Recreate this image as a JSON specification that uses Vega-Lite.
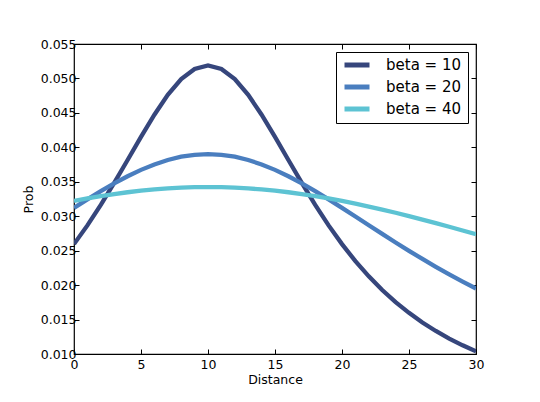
{
  "$schema": "https://vega.github.io/schema/vega-lite/v6.json",
  "autosize": {"type": "none"},
  "width": 402,
  "height": 310,
  "padding": {"left": 74, "top": 44, "right": 64, "bottom": 48},
  "background": "white",
  "config": {
    "font": "DejaVu Sans",
    "view": {"stroke": "black", "strokeWidth": 1.2},
    "axis": {
      "domain": false,
      "grid": false,
      "tickColor": "black",
      "tickSize": -5,
      "labelColor": "black",
      "labelFontSize": 12.5,
      "titleFontSize": 12.5,
      "titleFontWeight": "normal",
      "titleColor": "black"
    }
  },
  "data": {
    "values": [
      {"Distance": 0, "Prob": 0.02595, "beta": "beta = 10"},
      {"Distance": 1, "Prob": 0.02867, "beta": "beta = 10"},
      {"Distance": 2, "Prob": 0.03165, "beta": "beta = 10"},
      {"Distance": 3, "Prob": 0.03483, "beta": "beta = 10"},
      {"Distance": 4, "Prob": 0.03816, "beta": "beta = 10"},
      {"Distance": 5, "Prob": 0.04152, "beta": "beta = 10"},
      {"Distance": 6, "Prob": 0.04474, "beta": "beta = 10"},
      {"Distance": 7, "Prob": 0.04761, "beta": "beta = 10"},
      {"Distance": 8, "Prob": 0.0499, "beta": "beta = 10"},
      {"Distance": 9, "Prob": 0.05138, "beta": "beta = 10"},
      {"Distance": 10, "Prob": 0.05189, "beta": "beta = 10"},
      {"Distance": 11, "Prob": 0.05138, "beta": "beta = 10"},
      {"Distance": 12, "Prob": 0.0499, "beta": "beta = 10"},
      {"Distance": 13, "Prob": 0.04761, "beta": "beta = 10"},
      {"Distance": 14, "Prob": 0.04474, "beta": "beta = 10"},
      {"Distance": 15, "Prob": 0.04152, "beta": "beta = 10"},
      {"Distance": 16, "Prob": 0.03816, "beta": "beta = 10"},
      {"Distance": 17, "Prob": 0.03483, "beta": "beta = 10"},
      {"Distance": 18, "Prob": 0.03165, "beta": "beta = 10"},
      {"Distance": 19, "Prob": 0.02867, "beta": "beta = 10"},
      {"Distance": 20, "Prob": 0.02595, "beta": "beta = 10"},
      {"Distance": 21, "Prob": 0.02348, "beta": "beta = 10"},
      {"Distance": 22, "Prob": 0.02127, "beta": "beta = 10"},
      {"Distance": 23, "Prob": 0.01929, "beta": "beta = 10"},
      {"Distance": 24, "Prob": 0.01753, "beta": "beta = 10"},
      {"Distance": 25, "Prob": 0.01597, "beta": "beta = 10"},
      {"Distance": 26, "Prob": 0.01458, "beta": "beta = 10"},
      {"Distance": 27, "Prob": 0.01334, "beta": "beta = 10"},
      {"Distance": 28, "Prob": 0.01224, "beta": "beta = 10"},
      {"Distance": 29, "Prob": 0.01126, "beta": "beta = 10"},
      {"Distance": 30, "Prob": 0.01038, "beta": "beta = 10"},
      {"Distance": 0, "Prob": 0.03122, "beta": "beta = 20"},
      {"Distance": 1, "Prob": 0.03245, "beta": "beta = 20"},
      {"Distance": 2, "Prob": 0.03364, "beta": "beta = 20"},
      {"Distance": 3, "Prob": 0.03477, "beta": "beta = 20"},
      {"Distance": 4, "Prob": 0.0358, "beta": "beta = 20"},
      {"Distance": 5, "Prob": 0.03673, "beta": "beta = 20"},
      {"Distance": 6, "Prob": 0.03752, "beta": "beta = 20"},
      {"Distance": 7, "Prob": 0.03816, "beta": "beta = 20"},
      {"Distance": 8, "Prob": 0.03864, "beta": "beta = 20"},
      {"Distance": 9, "Prob": 0.03892, "beta": "beta = 20"},
      {"Distance": 10, "Prob": 0.03902, "beta": "beta = 20"},
      {"Distance": 11, "Prob": 0.03892, "beta": "beta = 20"},
      {"Distance": 12, "Prob": 0.03864, "beta": "beta = 20"},
      {"Distance": 13, "Prob": 0.03816, "beta": "beta = 20"},
      {"Distance": 14, "Prob": 0.03752, "beta": "beta = 20"},
      {"Distance": 15, "Prob": 0.03673, "beta": "beta = 20"},
      {"Distance": 16, "Prob": 0.0358, "beta": "beta = 20"},
      {"Distance": 17, "Prob": 0.03477, "beta": "beta = 20"},
      {"Distance": 18, "Prob": 0.03364, "beta": "beta = 20"},
      {"Distance": 19, "Prob": 0.03245, "beta": "beta = 20"},
      {"Distance": 20, "Prob": 0.03122, "beta": "beta = 20"},
      {"Distance": 21, "Prob": 0.02996, "beta": "beta = 20"},
      {"Distance": 22, "Prob": 0.02869, "beta": "beta = 20"},
      {"Distance": 23, "Prob": 0.02743, "beta": "beta = 20"},
      {"Distance": 24, "Prob": 0.02619, "beta": "beta = 20"},
      {"Distance": 25, "Prob": 0.02497, "beta": "beta = 20"},
      {"Distance": 26, "Prob": 0.0238, "beta": "beta = 20"},
      {"Distance": 27, "Prob": 0.02266, "beta": "beta = 20"},
      {"Distance": 28, "Prob": 0.02156, "beta": "beta = 20"},
      {"Distance": 29, "Prob": 0.02051, "beta": "beta = 20"},
      {"Distance": 30, "Prob": 0.01951, "beta": "beta = 20"},
      {"Distance": 0, "Prob": 0.03222, "beta": "beta = 40"},
      {"Distance": 1, "Prob": 0.03258, "beta": "beta = 40"},
      {"Distance": 2, "Prob": 0.03291, "beta": "beta = 40"},
      {"Distance": 3, "Prob": 0.03321, "beta": "beta = 40"},
      {"Distance": 4, "Prob": 0.03348, "beta": "beta = 40"},
      {"Distance": 5, "Prob": 0.03371, "beta": "beta = 40"},
      {"Distance": 6, "Prob": 0.03389, "beta": "beta = 40"},
      {"Distance": 7, "Prob": 0.03404, "beta": "beta = 40"},
      {"Distance": 8, "Prob": 0.03415, "beta": "beta = 40"},
      {"Distance": 9, "Prob": 0.03421, "beta": "beta = 40"},
      {"Distance": 10, "Prob": 0.03423, "beta": "beta = 40"},
      {"Distance": 11, "Prob": 0.03421, "beta": "beta = 40"},
      {"Distance": 12, "Prob": 0.03415, "beta": "beta = 40"},
      {"Distance": 13, "Prob": 0.03404, "beta": "beta = 40"},
      {"Distance": 14, "Prob": 0.03389, "beta": "beta = 40"},
      {"Distance": 15, "Prob": 0.03371, "beta": "beta = 40"},
      {"Distance": 16, "Prob": 0.03348, "beta": "beta = 40"},
      {"Distance": 17, "Prob": 0.03321, "beta": "beta = 40"},
      {"Distance": 18, "Prob": 0.03291, "beta": "beta = 40"},
      {"Distance": 19, "Prob": 0.03258, "beta": "beta = 40"},
      {"Distance": 20, "Prob": 0.03222, "beta": "beta = 40"},
      {"Distance": 21, "Prob": 0.03182, "beta": "beta = 40"},
      {"Distance": 22, "Prob": 0.0314, "beta": "beta = 40"},
      {"Distance": 23, "Prob": 0.03096, "beta": "beta = 40"},
      {"Distance": 24, "Prob": 0.0305, "beta": "beta = 40"},
      {"Distance": 25, "Prob": 0.03001, "beta": "beta = 40"},
      {"Distance": 26, "Prob": 0.02951, "beta": "beta = 40"},
      {"Distance": 27, "Prob": 0.02899, "beta": "beta = 40"},
      {"Distance": 28, "Prob": 0.02847, "beta": "beta = 40"},
      {"Distance": 29, "Prob": 0.02793, "beta": "beta = 40"},
      {"Distance": 30, "Prob": 0.02738, "beta": "beta = 40"}
    ]
  },
  "layer": [
    {
      "mark": {"type": "line", "strokeWidth": 4.3, "clip": true},
      "encoding": {
        "x": {
          "field": "Distance",
          "type": "quantitative",
          "scale": {"domain": [0, 30], "nice": false, "zero": false},
          "axis": {"values": [0, 5, 10, 15, 20, 25, 30], "labelPadding": 9, "titlePadding": 3, "labelFlush": false}
        },
        "y": {
          "field": "Prob",
          "type": "quantitative",
          "scale": {"domain": [0.01, 0.055], "nice": false, "zero": false},
          "axis": {
            "values": [0.01, 0.015, 0.02, 0.025, 0.03, 0.035, 0.04, 0.045, 0.05, 0.055],
            "format": ".3f",
            "labelPadding": 3,
            "titlePadding": 5,
            "labelFlush": false
          }
        },
        "color": {
          "field": "beta",
          "type": "nominal",
          "scale": {
            "domain": ["beta = 10", "beta = 20", "beta = 40"],
            "range": ["#36467c", "#4a7ebf", "#5dc3d3"]
          },
          "legend": {
            "title": null,
            "orient": "top-right",
            "offset": 8,
            "symbolType": "stroke",
            "symbolStrokeWidth": 5,
            "symbolSize": 625,
            "labelFontSize": 15,
            "labelColor": "black",
            "labelOffset": 14,
            "clipHeight": 14,
            "rowPadding": 7,
            "padding": 6,
            "strokeColor": "black",
            "fillColor": "white"
          }
        }
      }
    },
    {
      "mark": {"type": "line", "opacity": 0},
      "encoding": {
        "x": {
          "field": "Distance",
          "type": "quantitative",
          "scale": {"domain": [0, 30], "nice": false, "zero": false},
          "axis": {"orient": "top", "values": [0, 5, 10, 15, 20, 25, 30], "labels": false, "title": null}
        },
        "y": {
          "field": "Prob",
          "type": "quantitative",
          "scale": {"domain": [0.01, 0.055], "nice": false, "zero": false},
          "axis": {
            "orient": "right",
            "values": [0.01, 0.015, 0.02, 0.025, 0.03, 0.035, 0.04, 0.045, 0.05, 0.055],
            "labels": false,
            "title": null
          }
        },
        "detail": {"field": "beta"}
      }
    }
  ],
  "resolve": {"scale": {"x": "independent", "y": "independent"}, "axis": {"x": "independent", "y": "independent"}}
}
